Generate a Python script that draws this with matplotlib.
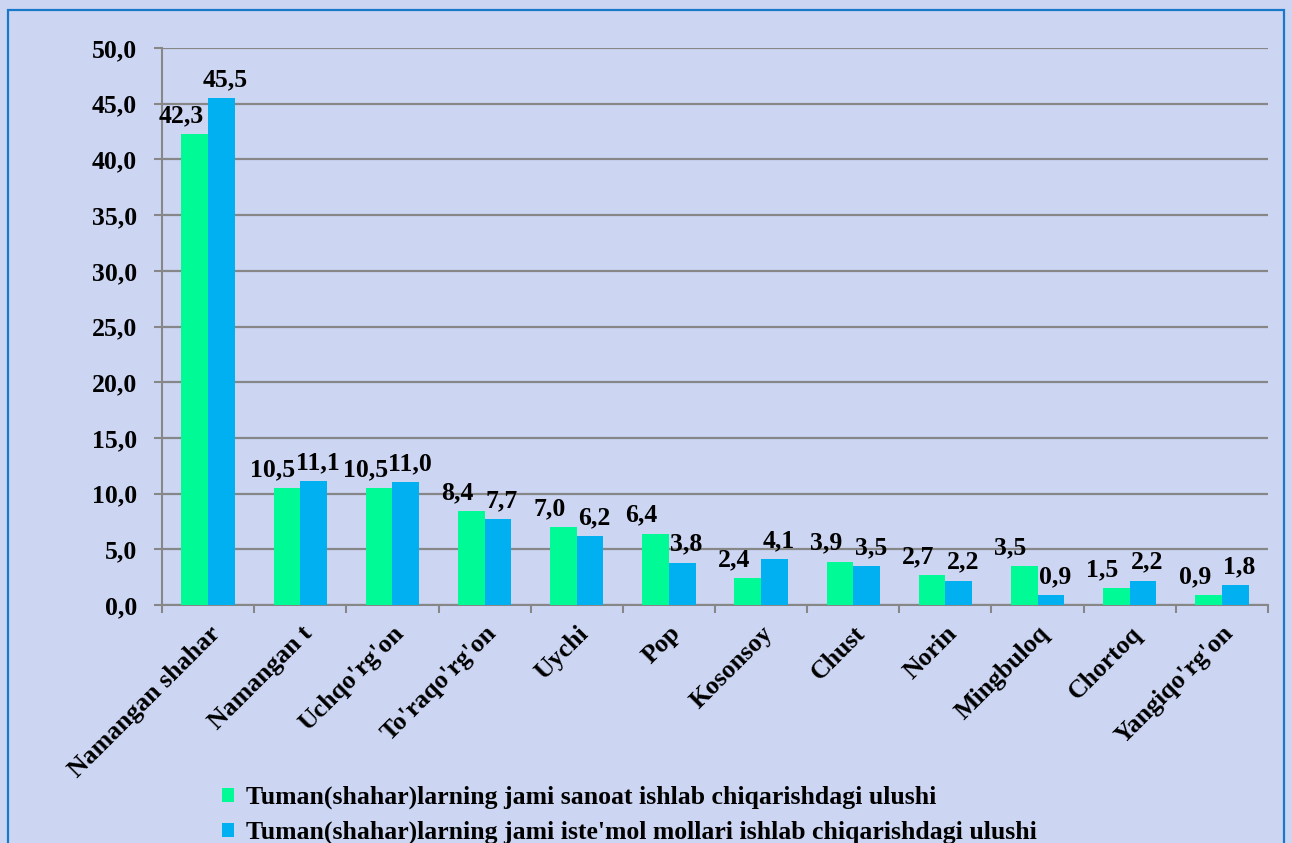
import numpy as np
import matplotlib.pyplot as plt
from matplotlib.patches import Rectangle

plt.rcParams['font.family'] = ['Liberation Serif', 'DejaVu Serif']
plt.rcParams['font.weight'] = 'bold'

districts = ["Namangan shahar", "Namangan t", "Uchqo'rg'on", "To'raqo'rg'on", "Uychi",
             "Pop", "Kosonsoy", "Chust", "Norin", "Mingbuloq", "Chortoq", "Yangiqo'rg'on"]
sanoat = [42.3, 10.5, 10.5, 8.4, 7.0, 6.4, 2.4, 3.9, 2.7, 3.5, 1.5, 0.9]
istemol = [45.5, 11.1, 11.0, 7.7, 6.2, 3.8, 4.1, 3.5, 2.2, 0.9, 2.2, 1.8]
series_names = ["Tuman(shahar)larning jami sanoat ishlab chiqarishdagi ulushi",
                "Tuman(shahar)larning jami iste'mol mollari ishlab chiqarishdagi ulushi"]

bg = '#CCD6F3'
green = '#00FA96'
blue = '#00B0F0'
grey = '#878787'
fs = 18.5

fig = plt.figure(figsize=(12.92, 8.43), dpi=100, facecolor=bg)
ax = fig.add_axes([0.1254, 0.2823, 0.856, 0.6607])
ax.set_facecolor('none')

# blue frame around the chart area
fig.patches.append(Rectangle((8 / 1292, -0.05), (1284 - 8) / 1292, 1 - 10 / 843 + 0.05,
                             transform=fig.transFigure, fill=False,
                             edgecolor='#1a78c8', lw=1.6))

x = np.arange(len(districts))
w = 0.29
b1 = ax.bar(x - w / 2, sanoat, w, color=green, zorder=3, label=series_names[0])
b2 = ax.bar(x + w / 2, istemol, w, color=blue, zorder=3, label=series_names[1])

def fmt(v):
    return f"{v:.1f}".replace('.', ',')

# labels nudged sideways like Excel does to keep them apart
for bars, dx in ((b1, -10), (b2, 3)):
    for r in bars:
        h = r.get_height()
        ax.annotate(fmt(h), (r.get_x() + r.get_width() / 2, h), xytext=(dx, 5),
                    textcoords='offset points', ha='center', va='bottom',
                    fontsize=fs, fontweight='bold', zorder=4)

ax.set_xlim(-0.5, len(districts) - 0.5)
ax.set_ylim(0, 50)
ax.set_yticks(np.arange(0, 50.1, 5))
ax.set_yticklabels([fmt(v) for v in np.arange(0, 50.1, 5)], fontsize=fs, fontweight='bold')
ax.yaxis.grid(True, color=grey, lw=1.6, zorder=0)

ax.set_xticks(x)
ax.set_xticklabels(districts, rotation=45, ha='right', va='top', rotation_mode='anchor',
                   fontsize=fs, fontweight='bold')
ax.set_xticks(np.arange(-0.5, len(districts), 1), minor=True)
ax.tick_params(axis='x', which='major', length=0, pad=12)
ax.tick_params(axis='x', which='minor', length=6, width=1.5, color=grey)
ax.tick_params(axis='y', length=6, width=1.5, color=grey, pad=12)

for s in ('top', 'right'):
    ax.spines[s].set_visible(False)
for s in ('left', 'bottom'):
    ax.spines[s].set_color(grey)
    ax.spines[s].set_linewidth(1.5)

fig.legend(loc='upper left', bbox_to_anchor=(0.172, 0.0676), frameon=False,
           handlelength=0.45, handleheight=0.45, handletextpad=0.47, labelspacing=0.45,
           borderaxespad=0, borderpad=0, prop={'size': fs, 'weight': 'bold'})

fig.savefig('out.png', dpi=100, facecolor=bg)
